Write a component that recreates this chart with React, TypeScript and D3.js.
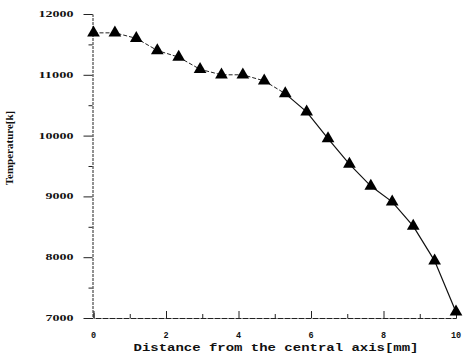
import React, { useEffect, useRef } from 'react';
import * as d3 from 'd3';

// datos
const distances = [0, 0.59, 1.18, 1.76, 2.35, 2.94, 3.53, 4.12, 4.71, 5.29, 5.88, 6.47, 7.06, 7.65, 8.24, 8.82, 9.41, 10];
const temperatures = [11690, 11690, 11600, 11400, 11290, 11090, 11000, 11000, 10900, 10690, 10390, 9950, 9530, 9170, 8910, 8510, 7940, 7100];
const xTicks = [0, 2, 4, 6, 8, 10];
const yTicks = [7000, 8000, 9000, 10000, 11000, 12000];

const App: React.FC = () => {
    const ref = useRef<SVGSVGElement>(null);

    useEffect(() => {
        const width = 465;
        const height = 355;
        const svg = d3.select(ref.current);
        svg.selectAll('*').remove();
        svg.attr('width', width).attr('height', height);

        const x = d3.scaleLinear().domain([0, 10]).range([93.5, 456]);
        const y = d3.scaleLinear().domain([7000, 12000]).range([318, 14]);

        const data = distances.map((d, i) => ({ d, t: temperatures[i] }));

        // ejes
        const xAxis = svg.append('g')
            .attr('transform', `translate(0,${y(7000)})`)
            .call(d3.axisBottom(x).tickValues(d3.range(0, 10.5, 1)).tickSize(-5).tickFormat(() => ''));
        xAxis.select('.domain').attr('stroke', '#222').attr('stroke-dasharray', '6,1');
        xAxis.selectAll('.tick line').attr('stroke', '#222')
            .attr('y2', (d: any) => (d % 2 === 0 ? -7 : -4));

        xAxis.selectAll('.xl').data(xTicks).enter().append('text')
            .attr('x', (d) => x(d))
            .attr('y', 20)
            .attr('text-anchor', 'middle')
            .style('font-family', 'Liberation Mono')
            .style('font-weight', 'bold')
            .style('font-size', '8.5px')
            .attr('fill', '#111')
            .text((d) => d);

        const yAxis = svg.append('g')
            .attr('transform', `translate(${x(0) - 1},0)`)
            .call(d3.axisLeft(y).tickValues(d3.range(7000, 12001, 500)).tickSize(6).tickFormat(() => ''));
        yAxis.select('.domain').attr('stroke', '#222').attr('stroke-dasharray', '3,1');
        yAxis.selectAll('.tick line').attr('stroke', '#222')
            .attr('x2', (d: any) => (d % 1000 === 0 ? -9 : -4));

        yAxis.selectAll('.yl').data(yTicks).enter().append('text')
            .attr('x', -19)
            .attr('y', (d) => y(d) + 3)
            .attr('text-anchor', 'end')
            .attr('textLength', (d) => String(d).length * 7)
            .attr('lengthAdjust', 'spacingAndGlyphs')
            .style('font-family', 'Liberation Serif')
            .style('font-weight', 'bold')
            .style('font-size', '9px')
            .attr('fill', '#111')
            .text((d) => d);

        // titulos de ejes
        svg.append('text')
            .attr('x', 276)
            .attr('y', 351)
            .attr('text-anchor', 'middle')
            .attr('textLength', 285)
            .attr('lengthAdjust', 'spacingAndGlyphs')
            .style('font-family', 'Liberation Mono')
            .style('font-weight', 'bold')
            .style('font-size', '10.5px')
            .attr('fill', '#111')
            .text('Distance from the central axis[mm]');

        svg.append('text')
            .attr('transform', `translate(13,148) rotate(-90)`)
            .attr('text-anchor', 'middle')
            .style('font-family', 'Liberation Serif')
            .style('font-weight', 'bold')
            .style('font-size', '11px')
            .attr('fill', '#111')
            .text('Temperature[k]');

        // linea: tramo discontinuo y tramo continuo
        const line = d3.line<{ d: number; t: number }>().x((p) => x(p.d)).y((p) => y(p.t));
        svg.append('path')
            .datum(data.slice(0, 10))
            .attr('d', line)
            .attr('fill', 'none')
            .attr('stroke', '#222')
            .attr('stroke-width', 1)
            .attr('stroke-dasharray', '4,2');
        svg.append('path')
            .datum(data.slice(9))
            .attr('d', line)
            .attr('fill', 'none')
            .attr('stroke', '#111')
            .attr('stroke-width', 1.2);

        // marcadores triangulares
        svg.selectAll('.mk').data(data).enter().append('path')
            .attr('d', d3.symbol().type(d3.symbolTriangle).size(70))
            .attr('transform', (p) => `translate(${x(p.d)},${y(p.t)})`)
            .attr('fill', '#000');
    }, []);

    return <svg ref={ref} style={{ position: 'absolute', left: 0, top: 0, background: '#fff' }}></svg>;
};

export default App;
